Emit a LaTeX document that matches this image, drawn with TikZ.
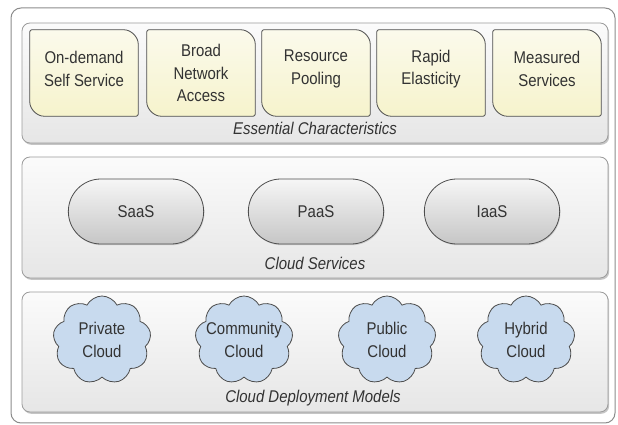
\documentclass[tikz,border=0pt]{standalone}
\usepackage{fontspec}
\setmainfont[FakeStretch=0.88]{Liberation Sans}
\usetikzlibrary{shapes.symbols,shapes.misc,shadows}

\definecolor{edge}{HTML}{4D4D4D}
\definecolor{frameline}{HTML}{8C8C8C}
\definecolor{panelline}{HTML}{9C9C9C}
\definecolor{paneltop}{HTML}{FBFBFB}
\definecolor{panelbot}{HTML}{E6E6E6}
\definecolor{leaftop}{HTML}{FBFAEC}
\definecolor{leafbot}{HTML}{F6F3CC}
\definecolor{pilltop}{HTML}{F6F6F6}
\definecolor{pillbot}{HTML}{C6C6C6}
\definecolor{cloudblue}{HTML}{C8DAEE}
\definecolor{ink}{HTML}{333333}

\tikzset{
  frame/.style={draw=frameline, line width=1pt, rounded corners=10pt, fill=white,
    minimum width=604, minimum height=415},
  layer/.style={draw=panelline, line width=0.8pt, rounded corners=8pt,
    top color=paneltop, bottom color=panelbot, minimum width=586, minimum height=120,
    drop shadow={shadow xshift=1.2pt, shadow yshift=-1.8pt, opacity=0.45}},
  layertitle/.style={font=\fontsize{17}{20}\selectfont\itshape, text=ink},
  charframe/.style={minimum width=108, minimum height=86, inner sep=0},
  leaf/.style={draw=edge, line width=0.8pt, rounded corners=2pt,
    top color=leaftop, bottom color=leafbot},
  chartext/.style={align=center, font=\fontsize{17}{22.5}\selectfont, text=ink},
  service/.style={rounded rectangle, draw=edge, line width=0.8pt,
    top color=pilltop, bottom color=pillbot, minimum width=142, minimum height=65,
    font=\fontsize{17}{20}\selectfont, text=ink,
    drop shadow={shadow xshift=0.8pt, shadow yshift=-1.2pt, opacity=0.3}},
  deploy/.style={cloud, cloud puffs=9, cloud puff arc=125, aspect=1.1, draw=edge,
    line width=0.8pt, fill=cloudblue, minimum width=98, minimum height=88, inner sep=0},
  cloudtext/.style={align=center, font=\fontsize{17}{22.5}\selectfont, text=ink},
}

% box with two big round corners (top right, bottom left)
\newcommand{\charbox}[4][4pt]{%
  \node[charframe] (#2) at (#3) {};
  \path[leaf] (#2.north west) -- ([xshift=-16pt]#2.north east)
    arc[start angle=90, end angle=0, radius=16pt] -- (#2.south east)
    -- ([xshift=16pt]#2.south west)
    arc[start angle=270, end angle=180, radius=16pt] -- cycle;
  \node[chartext] (#2text) at ([yshift=#1]#2.center) {#4};}

\begin{document}
\begin{tikzpicture}[x=1pt,y=1pt]
\useasboundingbox[fill=white] (0,0) rectangle (618,425);
\draw (313,209.5) node[frame](model) {};
\draw (315,342) node[layer](essential) {};
\draw (315,207.5) node[layer, minimum height=121](services) {};
\draw (315,73) node[layer](deployment) {};

% essential characteristics
\charbox{ondemand}{84,352}{On-demand\\Self Service}
\charbox[0pt]{broad}{201,352}{Broad\\Network\\Access}
\charbox{pooling}{316,352}{Resource\\Pooling}
\charbox{elastic}{431,352}{Rapid\\Elasticity}
\charbox{measured}{547,352}{Measured\\Services}
\draw (315,297) node[layertitle](essentialtitle) {Essential Characteristics};

% cloud services
\draw (136,213.5) node[service](saas) {SaaS};
\draw (316,213.5) node[service](paas) {PaaS};
\draw (492,213.5) node[service](iaas) {IaaS};
\draw (315,162) node[layertitle](servicestitle) {Cloud Services};

% deployment models
\draw (102,85) node[deploy](private) {};
\draw (private) node[cloudtext](privatetext) {Private\\Cloud};
\draw (244,85) node[deploy](community) {};
\draw (community) node[cloudtext](communitytext) {Community\\Cloud};
\draw (387,85) node[deploy](public) {};
\draw (public) node[cloudtext](publictext) {Public\\Cloud};
\draw (526,85) node[deploy](hybrid) {};
\draw (hybrid) node[cloudtext](hybridtext) {Hybrid\\Cloud};
\draw (313,27) node[layertitle](deploytitle) {Cloud Deployment Models};
\end{tikzpicture}
\end{document}
